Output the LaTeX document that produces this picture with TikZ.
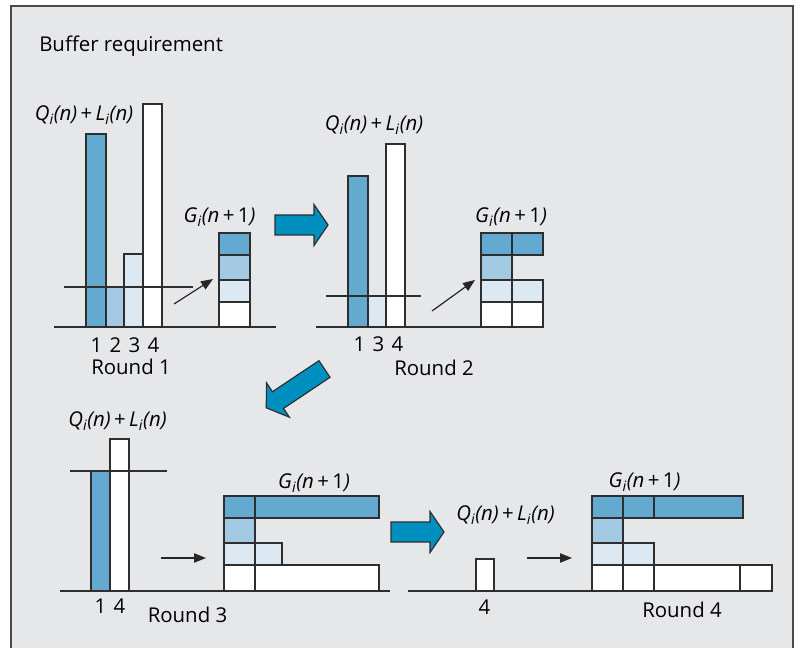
\documentclass[tikz,border=0pt]{standalone}
\usepackage{fontspec}
\setmainfont{Open Sans}
\usetikzlibrary{arrows.meta}
\definecolor{bg}{HTML}{E6E7E9}
\definecolor{bmid}{HTML}{64AAD0}
\definecolor{blight}{HTML}{A3C9E3}
\definecolor{bvlight}{HTML}{DCE9F2}
\definecolor{arrowblue}{HTML}{0090C0}
\definecolor{edgecol}{HTML}{2E2E2E}
\definecolor{framecol}{HTML}{4A4A4A}
\newcommand{\QLlabel}{\textit{Q\textsubscript{i}(n)}\,+\,\textit{L\textsubscript{i}(n)}}
\newcommand{\Glabel}{\textit{G\textsubscript{i}(n}\,+\,1\textit{)}}
\newcommand{\widesp}{\spaceskip=0.36em\relax}
\tikzset{
  txt/.style={font=\fontsize{15.3pt}{18pt}\selectfont, inner sep=0pt, text=black},
  nums/.style={txt, anchor=base},
  cell/.style={draw=edgecol, line width=1.1pt},
  baseln/.style={draw=edgecol, line width=1.1pt},
  thresh/.style={draw=edgecol, line width=0.9pt},
  smallarrow/.style={draw=black!85, line width=0.9pt, -{Triangle[length=9pt,width=7pt]}},
  bigarrow/.style={fill=arrowblue, draw=edgecol, line width=0.9pt, line join=miter},
}
\newcommand{\bigarr}[4]{% x, y, angle, length
  \begin{scope}[shift={(#1,#2)}, rotate=#3]
    \filldraw[bigarrow] (0,-10) -- ({#4-14},-10) -- ({#4-14},-20.5) -- (#4,0) -- ({#4-14},20.5) -- ({#4-14},10) -- (0,10) -- cycle;
  \end{scope}}
\begin{document}
\begin{tikzpicture}[x=0.75pt, y=-0.75pt]
\useasboundingbox (0,0) rectangle (798,648);
% frame
\fill[bg] (11,6) rectangle (793,648);
\draw[framecol, line width=1.2pt] (11,648) -- (11,6) -- (793,6) -- (793,648);
\node[txt, anchor=base west] (title) at (39,52) {Buffer requirement};

% ---------- Round 1 ----------
\path[cell, fill=bmid] (86,134) rectangle (106,327);
\path[cell, fill=blight] (106,287) rectangle (124,327);
\path[cell, fill=bvlight] (124,254) rectangle (143,327);
\path[cell, fill=white] (143,104) rectangle (162,327);
\draw[thresh] (64,287) -- (193,287);
\draw[baseln] (54,327) -- (276,327);
\path[cell, fill=bmid] (219,233) rectangle (250,255);
\path[cell, fill=blight] (219,255) rectangle (250,280);
\path[cell, fill=bvlight] (219,280) rectangle (250,302);
\path[cell, fill=white] (219,302) rectangle (250,327);
\node[txt] (q1) at (84,115.5) {\QLlabel};
\node[txt] (g1) at (219.5,217.5) {\Glabel};
\node[nums] (n1) at (125,352) {\widesp 1 2 3 4};
\node[txt, anchor=base] (r1) at (131,374) {Round 1};
\coordinate (s1a) at (174,304);
\coordinate (s1b) at (213,279);
\draw[smallarrow] (s1a) -- (s1b);
\bigarr{275}{225}{0}{53}

% ---------- Round 2 ----------
\path[cell, fill=bmid] (348,176) rectangle (368,327);
\path[cell, fill=bvlight] (368,296) rectangle (386,327);
\path[cell, fill=white] (386,144) rectangle (405,327);
\draw[thresh] (326,296) -- (421,296);
\draw[baseln] (316,327) -- (543,327);
\path[cell, fill=bmid] (481,233) rectangle (512,255);
\path[cell, fill=bmid] (512,233) rectangle (543,255);
\path[cell, fill=blight] (481,255) rectangle (512,280);
\path[cell, fill=bvlight] (481,280) rectangle (512,302);
\path[cell, fill=bvlight] (512,280) rectangle (543,302);
\path[cell, fill=white] (481,302) rectangle (512,327);
\path[cell, fill=white] (512,302) rectangle (543,327);
\node[txt] (q2) at (374,125) {\QLlabel};
\node[txt] (g2) at (511,217) {\Glabel};
\node[nums] (n2) at (378.5,351) {\widesp 1 3 4};
\node[txt, anchor=base] (r2) at (434,375) {Round 2};
\coordinate (s2a) at (432,311);
\coordinate (s2b) at (475,280);
\draw[smallarrow] (s2a) -- (s2b);
\bigarr{324.5}{369}{213.7}{70}

% ---------- Round 3 ----------
\path[cell, fill=bmid] (91,471) rectangle (110,591);
\path[cell, fill=white] (110,439) rectangle (129,591);
\draw[thresh] (70,471) -- (167,471);
\draw[baseln] (60,591) -- (390,591);
\path[cell, fill=bmid] (224,496) rectangle (255,518);
\path[cell, fill=bmid] (255,496) rectangle (379,518);
\path[cell, fill=blight] (224,518) rectangle (255,543);
\path[cell, fill=bvlight] (224,543) rectangle (255,565);
\path[cell, fill=bvlight] (255,543) rectangle (282,565);
\path[cell, fill=white] (224,565) rectangle (255,591);
\path[cell, fill=white] (255,565) rectangle (379,591);
\node[txt] (q3) at (117.5,421) {\QLlabel};
\node[txt] (g3) at (314,483) {\Glabel};
\node[nums] (n3) at (110,613) {\widesp 1 4};
\node[txt, anchor=base] (r3) at (187.5,622) {Round 3};
\coordinate (s3a) at (161,558);
\coordinate (s3b) at (206,558);
\draw[smallarrow] (s3a) -- (s3b);
\bigarr{391}{532}{0}{53}

% ---------- Round 4 ----------
\path[cell, fill=white] (476,559) rectangle (494,591);
\draw[baseln] (408,591) -- (738,591);
\path[cell, fill=bmid] (592,496) rectangle (623,518);
\path[cell, fill=bmid] (623,496) rectangle (654,518);
\path[cell, fill=bmid] (654,496) rectangle (743,518);
\path[cell, fill=blight] (592,518) rectangle (623,543);
\path[cell, fill=bvlight] (592,543) rectangle (623,565);
\path[cell, fill=bvlight] (623,543) rectangle (654,565);
\path[cell, fill=white] (592,565) rectangle (623,591);
\path[cell, fill=white] (623,565) rectangle (654,591);
\path[cell, fill=white] (654,565) rectangle (740,591);
\path[cell, fill=white] (740,565) rectangle (772,591);
\node[txt] (q4) at (505.5,515) {\QLlabel};
\node[txt] (g4) at (644.5,482.5) {\Glabel};
\node[nums] (n4) at (484.5,614) {4};
\node[txt, anchor=base] (r4) at (682,617) {Round 4};
\coordinate (s4a) at (527,558);
\coordinate (s4b) at (572,558);
\draw[smallarrow] (s4a) -- (s4b);
\end{tikzpicture}
\end{document}
